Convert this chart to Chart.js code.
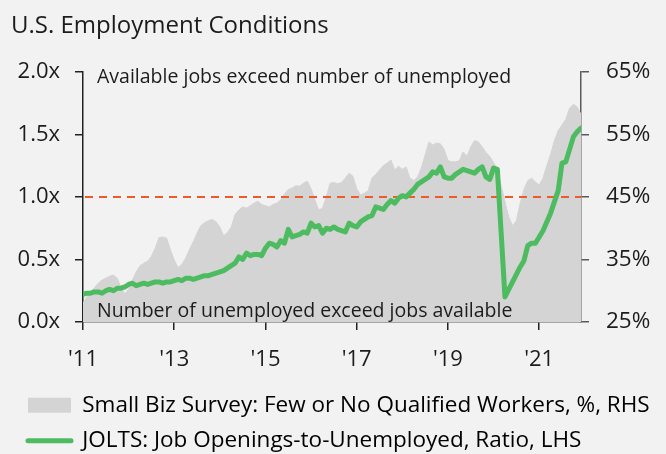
<!DOCTYPE html>
<html>
<head>
<meta charset="utf-8">
<title>U.S. Employment Conditions</title>
<script src="https://cdn.jsdelivr.net/npm/chart.js@4.4.1/dist/chart.umd.min.js"></script>
<style>
  html, body { margin: 0; padding: 0; background: #f2f2f2; }
  #wrap { width: 666px; height: 454px; }
</style>
</head>
<body>
<div id="wrap"><canvas id="chart" width="666" height="454"></canvas></div>
<script>
// ==========================
// Data (monthly, Jan 2011 - Dec 2021)
// ==========================

const startYear = 2011;

// JOLTS job openings / unemployed, ratio (LHS)
const joltsRatio = [
    0.22, 0.23, 0.23, 0.24, 0.24, 0.23, 0.25, 0.26, 0.25, 0.27, 0.27, 0.28,
    0.30, 0.31, 0.29, 0.30, 0.31, 0.30, 0.31, 0.32, 0.32, 0.31, 0.32, 0.32,
    0.33, 0.34, 0.33, 0.35, 0.35, 0.34, 0.35, 0.36, 0.37, 0.37, 0.38, 0.39,
    0.40, 0.41, 0.43, 0.45, 0.47, 0.52, 0.50, 0.55, 0.53, 0.54, 0.54, 0.53,
    0.59, 0.63, 0.62, 0.60, 0.65, 0.63, 0.74, 0.68, 0.69, 0.70, 0.72, 0.71,
    0.79, 0.76, 0.77, 0.71, 0.75, 0.74, 0.76, 0.74, 0.73, 0.72, 0.79, 0.77,
    0.76, 0.80, 0.82, 0.84, 0.85, 0.92, 0.91, 0.90, 0.94, 0.97, 0.95, 0.99,
    1.01, 1.00, 1.03, 1.06, 1.10, 1.12, 1.14, 1.16, 1.20, 1.19, 1.24, 1.16,
    1.15, 1.15, 1.18, 1.20, 1.22, 1.21, 1.20, 1.19, 1.22, 1.24, 1.16, 1.14,
    1.23, 1.22, 0.71, 0.20, 0.26, 0.32, 0.38, 0.44, 0.49, 0.61, 0.63, 0.63,
    0.68, 0.73, 0.80, 0.87, 0.96, 1.05, 1.27, 1.28, 1.38, 1.48, 1.52, 1.55
];

// Small business survey: few or no qualified applicants, % (RHS)
const smallBizPct = [
    28.0, 29.0, 29.8, 30.5, 31.2, 31.7, 32.0, 32.3, 32.5, 32.0, 30.5, 29.5,
    30.2, 31.7, 33.0, 34.0, 34.4, 34.7, 35.5, 36.8, 38.5, 38.6, 38.4, 36.5,
    34.9, 33.7, 34.2, 35.2, 36.6, 37.8, 39.2, 40.4, 40.9, 41.2, 41.4, 41.0,
    40.2, 38.8, 39.3, 40.2, 42.2, 42.9, 43.4, 43.2, 43.6, 44.0, 44.3, 43.8,
    43.6, 43.4, 43.8, 44.0, 44.5, 45.5, 46.2, 46.4, 46.8, 46.7, 47.2, 47.5,
    46.3, 44.5, 42.9, 43.2, 45.0, 47.2, 47.3, 47.1, 47.3, 48.0, 48.8, 48.3,
    46.3, 45.3, 45.6, 46.0, 48.0, 48.6, 49.3, 50.0, 50.4, 50.9, 49.3, 49.9,
    49.4, 49.8, 48.0, 47.6, 48.2, 49.6, 51.7, 53.8, 53.3, 53.6, 53.5, 52.6,
    50.8, 50.6, 50.6, 50.8, 52.2, 51.5, 53.0, 54.0, 53.8, 53.0, 52.1, 51.5,
    50.5, 49.5, 46.8, 44.2, 41.8, 40.4, 41.2, 44.0, 46.2, 47.6, 48.0, 47.4,
    46.9, 48.0, 50.0, 51.8, 54.0, 55.6, 56.5, 57.4, 59.2, 59.8, 59.4, 58.2
];

const tickYears = [2011, 2013, 2015, 2017, 2019, 2021];
const leftTicks = [0, 0.5, 1.0, 1.5, 2.0];
const rightTicks = [25, 35, 45, 55, 65];
const parityLevel = 1.0;

const seriesNames = [
    "Small Biz Survey: Few or No Qualified Workers, %, RHS",
    "JOLTS: Job Openings-to-Unemployed, Ratio, LHS"
];

const noteAbove = "Available jobs exceed number of unemployed";
const noteBelow = "Number of unemployed exceed jobs available";

// ==========================
// Styles
// ==========================

const GREEN = "#4dbb5f";
const GREY = "#d4d4d4";
const RED = "#f05a28";
const INK = "#1c1c1c";
const AXIS_DARK = "#222222";
const AXIS = "#5a5a5a";
const FONT = "'Open Sans', 'Noto Sans', sans-serif";

Chart.defaults.font.family = FONT;
Chart.defaults.color = INK;

const monthX = i => startYear + i / 12;

// ==========================
// Reference line, notes, legend nudge
// ==========================

const overlayPlugin = {
    id: "overlay",

    afterLayout(chart) {
        // legend markers sit a little right of the title
        chart.legend.left += 4;
        chart.legend.right += 4;
    },

    beforeDatasetDraw(chart, args) {
        // dashed 1.0x line goes between the grey area and the green line
        if (args.index !== 0) return;
        const { ctx, chartArea } = chart;
        const y = chart.scales.y.getPixelForValue(parityLevel);
        ctx.save();
        ctx.strokeStyle = RED;
        ctx.lineWidth = 2;
        ctx.setLineDash([8, 6]);
        ctx.beginPath();
        ctx.moveTo(chartArea.left + 2, y);
        ctx.lineTo(chartArea.right, y);
        ctx.stroke();
        ctx.restore();
    },

    afterDatasetsDraw(chart) {
        const { ctx, chartArea } = chart;
        ctx.save();
        ctx.font = "19.5px " + FONT;
        ctx.fillStyle = INK;
        ctx.textAlign = "left";
        ctx.textBaseline = "alphabetic";
        ctx.fillText(noteAbove, chartArea.left + 14, chartArea.top + 11);
        ctx.fillText(noteBelow, chartArea.left + 14, chartArea.bottom - 5);
        ctx.restore();
    }
};

// ==========================
// Chart
// ==========================

new Chart(document.getElementById("chart"), {
    type: "line",
    data: {
        datasets: [
            {
                label: seriesNames[1],
                data: joltsRatio.map((v, i) => ({ x: monthX(i), y: v })),
                yAxisID: "y",
                borderColor: GREEN,
                borderWidth: 5,
                borderJoinStyle: "round",
                borderCapStyle: "round",
                pointRadius: 0,
                tension: 0,
                fill: false
            },
            {
                label: seriesNames[0],
                data: smallBizPct.map((v, i) => ({ x: monthX(i), y: v })),
                yAxisID: "yRight",
                borderColor: GREY,
                backgroundColor: GREY,
                borderWidth: 1,
                pointRadius: 0,
                tension: 0,
                fill: "start"
            }
        ]
    },
    options: {
        responsive: false,
        animation: false,
        layout: { padding: { left: 11, right: 0, top: 0, bottom: 0 } },
        plugins: {
            tooltip: { enabled: false },
            title: {
                display: true,
                text: "U.S. Employment Conditions",
                align: "start",
                color: INK,
                font: { size: 24, weight: "normal" },
                padding: { top: 12, bottom: 31 }
            },
            legend: {
                position: "bottom",
                align: "start",
                maxHeight: 73,
                labels: {
                    usePointStyle: true,
                    pointStyleWidth: 43,
                    boxHeight: 15,
                    padding: 13,
                    color: INK,
                    font: { size: 22.5 },
                    generateLabels: () => [
                        {
                            text: seriesNames[0],
                            fillStyle: GREY,
                            strokeStyle: GREY,
                            lineWidth: 0,
                            pointStyle: "rect",
                            datasetIndex: 1
                        },
                        {
                            text: seriesNames[1],
                            fillStyle: GREEN,
                            strokeStyle: GREEN,
                            lineWidth: 5,
                            lineCap: "round",
                            pointStyle: "line",
                            datasetIndex: 0
                        }
                    ]
                }
            }
        },
        scales: {
            x: {
                type: "linear",
                min: monthX(0),
                max: monthX(joltsRatio.length - 1),
                afterBuildTicks: axis => {
                    axis.ticks = tickYears.map(v => ({ value: v }));
                },
                afterFit: axis => { axis.height = 59; },
                grid: {
                    drawOnChartArea: false,
                    drawTicks: true,
                    tickLength: 8,
                    color: AXIS_DARK,
                    lineWidth: 1.5
                },
                border: { display: true, color: AXIS, width: 1.5 },
                ticks: {
                    padding: 17,
                    color: INK,
                    font: { size: 22 },
                    maxRotation: 0,
                    callback: v => "'" + String(v).slice(2)
                }
            },
            y: {
                position: "left",
                min: leftTicks[0],
                max: leftTicks[leftTicks.length - 1],
                afterBuildTicks: axis => {
                    axis.ticks = leftTicks.map(v => ({ value: v }));
                },
                afterFit: axis => { axis.width = 72; },
                grid: {
                    drawOnChartArea: false,
                    drawTicks: true,
                    tickLength: 8,
                    color: AXIS_DARK,
                    lineWidth: 1.5
                },
                border: { display: true, color: AXIS_DARK, width: 1.5 },
                ticks: {
                    padding: 15,
                    color: INK,
                    font: { size: 22 },
                    callback: v => v.toFixed(1) + "x"
                }
            },
            yRight: {
                position: "right",
                min: rightTicks[0],
                max: rightTicks[rightTicks.length - 1],
                afterBuildTicks: axis => {
                    axis.ticks = rightTicks.map(v => ({ value: v }));
                },
                afterFit: axis => { axis.width = 85; },
                grid: {
                    drawOnChartArea: false,
                    drawTicks: true,
                    tickLength: 8,
                    color: AXIS,
                    lineWidth: 1.5
                },
                border: { display: true, color: AXIS, width: 1.5 },
                ticks: {
                    padding: 17,
                    color: INK,
                    font: { size: 22.5 },
                    callback: v => v + "%"
                }
            }
        }
    },
    plugins: [overlayPlugin]
});
</script>
</body>
</html>
